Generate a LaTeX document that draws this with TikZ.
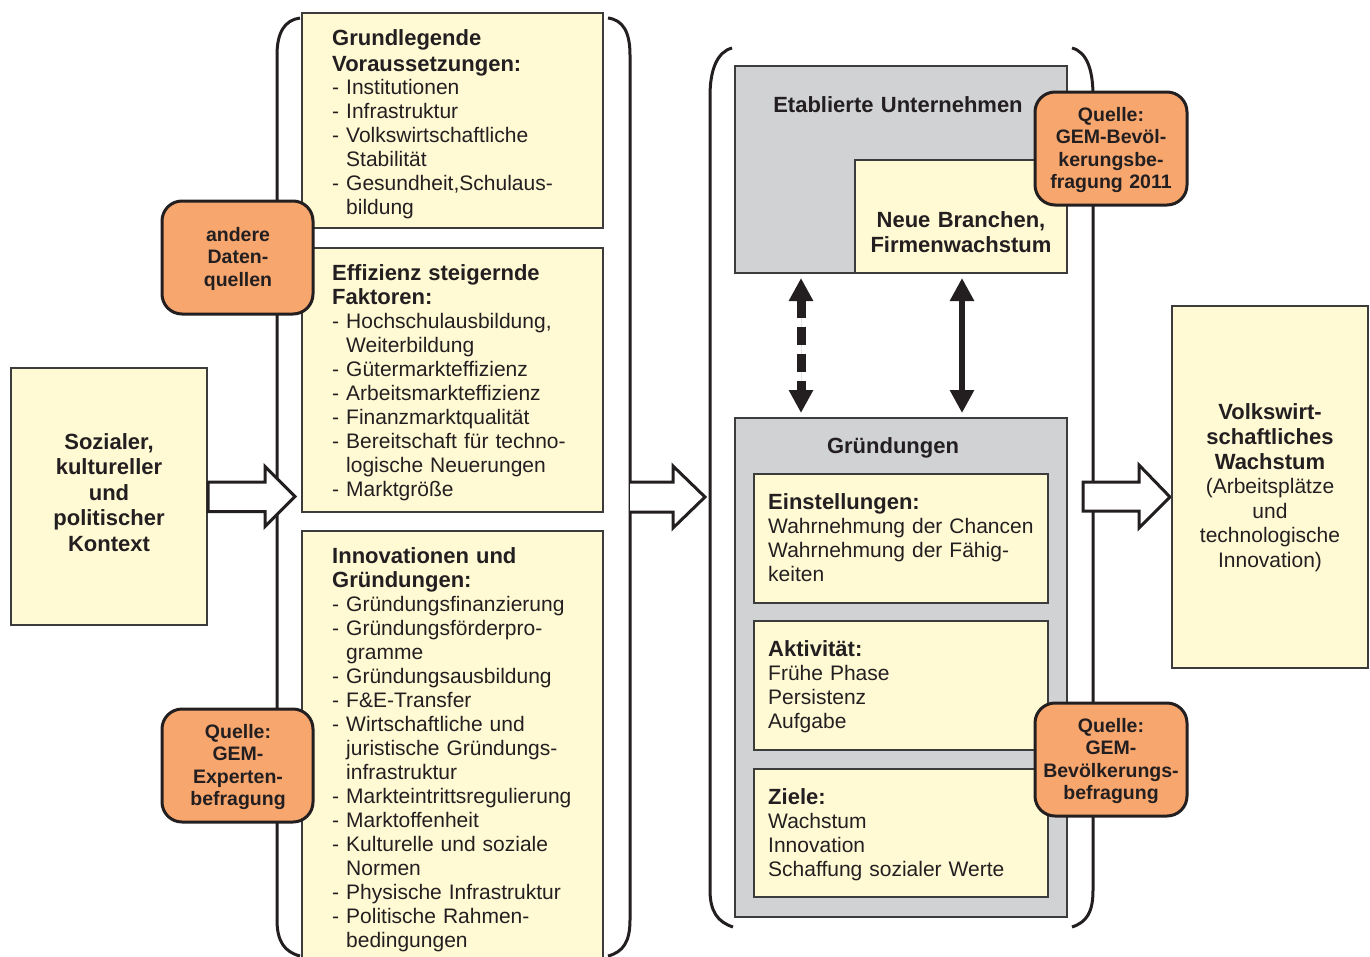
\documentclass[tikz,border=0pt]{standalone}
\usepackage{fontspec}
\setmainfont{Liberation Sans}
\usetikzlibrary{arrows.meta,calc}
\definecolor{ylw}{HTML}{FFF9D4}
\definecolor{gry}{HTML}{D1D2D4}
\definecolor{org}{HTML}{F7A66E}
\definecolor{ink}{HTML}{231F20}
\definecolor{edge}{HTML}{3C3C3C}
\newcommand\ind{\hphantom{-\ }}
\begin{document}
\begin{tikzpicture}[x=1pt,y=-1pt,
  ybox/.style={draw=edge,line width=1.3pt,fill=ylw,inner sep=0pt,outer sep=0pt,anchor=north west},
  gbox/.style={draw=edge,line width=1.3pt,fill=gry,inner sep=0pt,outer sep=0pt,anchor=north west},
  obox/.style={draw=ink,line width=3pt,fill=org,rounded corners=20pt,inner sep=0pt,outer sep=0pt,anchor=north west},
  ltext/.style={inner sep=0pt,anchor=base west,text width=290pt,align=left,text=ink,
    font=\fontsize{21}{24}\selectfont},
  ctext/.style={inner sep=0pt,anchor=base,text width=300pt,align=center,text=ink},
  otext/.style={ctext,font=\fontsize{19.5}{22.6}\selectfont\bfseries},
  brk/.style={draw=ink,line width=3pt},
  hollow/.style={draw=ink,line width=3pt,fill=white,line join=miter},
  dblarrow/.style={draw=ink,fill=ink,{Triangle[width=23pt,length=23pt]}-{Triangle[width=23pt,length=23pt]}}
]
\useasboundingbox (0,0) rectangle (1370,956);

% brackets
\draw[brk] (300,18) .. controls (285,20) and (277,32) .. (277,55) -- (277,920) .. controls (277,942) and (285,952) .. (300,956);
\draw[brk] (608,18) .. controls (623,20) and (630,32) .. (630,55) -- (630,920) .. controls (630,942) and (623,952) .. (608,956);
\draw[brk] (732,48) .. controls (717,52) and (710,70) .. (710,96) -- (710,890) .. controls (710,912) and (718,922) .. (733,927);
\draw[brk] (1072,48) .. controls (1087,52) and (1093,70) .. (1093,96) -- (1093,890) .. controls (1093,912) and (1087,922) .. (1072,927);

% left context box
\node[ybox,minimum width=196pt,minimum height=257pt] (ctx) at (11,368) {};
\node[ctext,font=\fontsize{22}{25.5}\selectfont\bfseries] (ctxt) at (109,449)
  {Sozialer,\\kultureller\\und\\politischer\\Kontext};

% middle column boxes
\node[ybox,minimum width=301pt,minimum height=215pt] (b1) at (302,13) {};
\node[ltext] (b1t) at (332,45) {{\fontsize{22}{24}\selectfont\bfseries Grundlegende\\[2pt]Voraussetzungen:}\\[-1pt]
- Institutionen\\- Infrastruktur\\- Volkswirtschaftliche\\\ind Stabilität\\- Gesundheit,Schulaus-\\\ind bildung};

\node[ybox,minimum width=301pt,minimum height=264pt] (b2) at (302,248) {};
\node[ltext] (b2t) at (332,280) {{\fontsize{22}{24}\selectfont\bfseries Effizienz steigernde\\Faktoren:}\\
- Hochschulausbildung,\\\ind Weiterbildung\\- Gütermarkteffizienz\\- Arbeitsmarkteffizienz\\- Finanzmarktqualität\\- Bereitschaft für techno-\\\ind logische Neuerungen\\- Marktgröße};

\node[ybox,minimum width=301pt,minimum height=440pt] (b3) at (302,531) {};
\node[ltext] (b3t) at (332,563) {{\fontsize{22}{24}\selectfont\bfseries Innovationen und\\Gründungen:}\\
- Gründungsfinanzierung\\- Gründungsförderpro-\\\ind gramme\\- Gründungsausbildung\\- F\&E-Transfer\\- Wirtschaftliche und\\\ind juristische Gründungs-\\\ind infrastruktur\\- Markteintrittsregulierung\\- Marktoffenheit\\- Kulturelle und soziale\\\ind Normen\\- Physische Infrastruktur\\- Politische Rahmen-\\\ind bedingungen};

% orange left boxes
\node[obox,minimum width=151pt,minimum height=113pt] (o1) at (162,201) {};
\node[otext] (o1t) at (238,241) {andere\\Daten-\\quellen};
\node[obox,minimum width=151pt,minimum height=113pt] (o2) at (162,709) {};
\node[otext] (o2t) at (238,738) {Quelle:\\GEM-\\Experten-\\befragung};

% hollow arrows
\coordinate (a1s) at (ctx.east);
\draw[hollow] ($(a1s)+(1,-14.5)$) -- ($(a1s)+(58,-14.5)$) -- ($(a1s)+(58,-30)$) -- ($(a1s)+(88,0)$)
  -- ($(a1s)+(58,30)$) -- ($(a1s)+(58,15)$) -- ($(a1s)+(1,15)$) -- cycle;
\coordinate (a2s) at (630,497);
\draw[hollow] ($(a2s)+(0,-15)$) -- ($(a2s)+(43,-15)$) -- ($(a2s)+(43,-31)$) -- ($(a2s)+(75,0)$)
  -- ($(a2s)+(43,31)$) -- ($(a2s)+(43,15)$) -- ($(a2s)+(0,15)$);
\coordinate (a3s) at (1083,497);
\draw[hollow] ($(a3s)+(0,-15)$) -- ($(a3s)+(56,-15)$) -- ($(a3s)+(56,-32)$) -- ($(a3s)+(87,0)$)
  -- ($(a3s)+(56,31)$) -- ($(a3s)+(56,14)$) -- ($(a3s)+(0,14)$) -- cycle;

% established firms
\node[gbox,minimum width=332pt,minimum height=207pt] (etab) at (735,66) {};
\node[ctext,font=\fontsize{22}{24}\selectfont\bfseries] (etabt) at (898,112) {Etablierte Unternehmen};
\node[ybox,minimum width=212pt,minimum height=113pt] (neu) at (855,160) {};
\node[ctext,font=\fontsize{22}{25.5}\selectfont\bfseries] (neut) at (961,227) {Neue Branchen,\\Firmenwachstum};

% start-ups
\node[gbox,minimum width=332pt,minimum height=499pt] (gr) at (735,418) {};
\node[ctext,font=\fontsize{22}{24}\selectfont\bfseries] (grt) at (893,453) {Gründungen};
\node[ybox,minimum width=294pt,minimum height=129pt] (ein) at (754,474) {};
\node[ltext] (eint) at (768,509) {{\fontsize{22}{24}\selectfont\bfseries Einstellungen:}\\Wahrnehmung der Chancen\\Wahrnehmung der Fähig-\\keiten};
\node[ybox,minimum width=294pt,minimum height=129pt] (akt) at (754,621) {};
\node[ltext] (aktt) at (768,656) {{\fontsize{22}{24}\selectfont\bfseries Aktivität:}\\Frühe Phase\\Persistenz\\Aufgabe};
\node[ybox,minimum width=294pt,minimum height=128pt] (ziel) at (754,769) {};
\node[ltext] (zielt) at (768,804) {{\fontsize{22}{24}\selectfont\bfseries Ziele:}\\Wachstum\\Innovation\\Schaffung sozialer Werte};

% double arrows
\draw[dblarrow,line width=9pt,dash pattern=on 18pt off 9pt,shorten <=5pt,shorten >=5pt]
  ([xshift=66pt]etab.south west) -- ([xshift=66pt]gr.north west);
\draw[dblarrow,line width=6.5pt,shorten <=5pt,shorten >=5pt]
  ([xshift=227pt]etab.south west) -- ([xshift=227pt]gr.north west);

% orange right boxes
\node[obox,minimum width=152pt,minimum height=113pt] (o3) at (1035,92) {};
\node[otext] (o3t) at (1111,121) {Quelle:\\GEM-Bevöl-\\kerungsbe-\\fragung 2011};
\node[obox,minimum width=152pt,minimum height=113pt] (o4) at (1035,703) {};
\node[otext] (o4t) at (1111,732) {Quelle:\\GEM-\\Bevölkerungs-\\befragung};

% right box
\node[ybox,minimum width=196pt,minimum height=362pt] (vw) at (1172,306) {};
\node[ctext,font=\fontsize{21}{24.5}\selectfont] (vwt) at (1270,419)
  {{\fontsize{22}{25.5}\selectfont\bfseries Volkswirt-\\schaftliches\\Wachstum}\\(Arbeitsplätze\\und\\technologische\\Innovation)};
\end{tikzpicture}
\end{document}
